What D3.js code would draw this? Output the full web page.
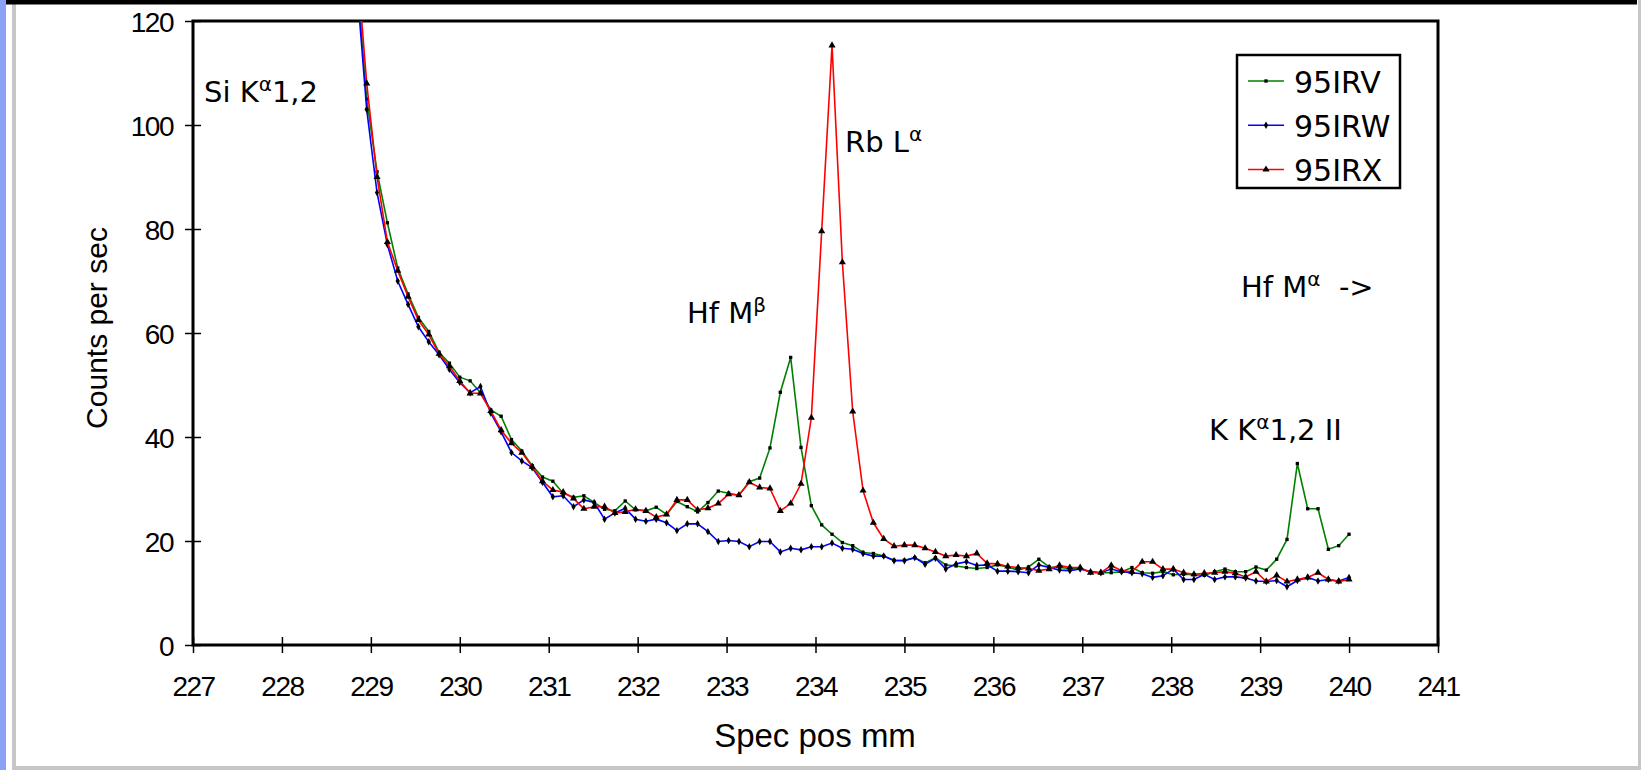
<!DOCTYPE html>
<html>
<head>
<meta charset="utf-8">
<script src="https://cdn.jsdelivr.net/npm/d3@7"></script>
<style>
  html, body { margin: 0; padding: 0; background: #fff; }
  svg { display: block; }
  .tick text { font-family: "Liberation Sans", Arial, sans-serif; font-size: 28px; letter-spacing: -1.5px; fill: #000; }
  .note { font-family: "DejaVu Sans", sans-serif; font-size: 29px; fill: #000; }
  .title { font-family: "Liberation Sans", Arial, sans-serif; fill: #000; }
</style>
</head>
<body>
<svg id="chart" width="1643" height="770"></svg>
<script>
// spectrometer positions: 97 steps from 228.837 to 240.0 mm
var posStart = 228.837, posStep = 10 / 86;
var positions = d3.range(97).map(function(i){ return posStart + i * posStep; });

var seriesNames = ["95IRV", "95IRW", "95IRX"];

var irv = [130, 105, 91, 81.2, 72.5, 67.5, 63, 60.3, 56.3, 54.2,
  51.5, 50.8, 48.5, 45.2, 44, 39.5, 37.3, 34.5, 32.3, 31.5,
  29.2, 28.4, 28.7, 27.4, 26.1, 25.8, 27.7, 26.0, 25.8, 26.5,
  25.1, 27.6, 26.6, 25.6, 27.4, 29.6, 29.2, 28.8, 31.4, 32.1,
  37.9, 48.6, 55.3, 38.0, 26.8, 23.1, 21.3, 19.7, 19.1, 17.8,
  17.6, 17.1, 16.3, 16.3, 16.8, 15.8, 16.8, 15.4, 15.2, 14.9,
  14.7, 14.9, 15.4, 15.0, 14.4, 15.0, 16.5, 15.0, 14.9, 14.7,
  14.7, 14.1, 13.9, 13.9, 14.1, 14.9, 13.9, 13.8, 14.1, 13.5,
  13.6, 13.5, 13.4, 14.1, 14.6, 14.1, 14.1, 15.0, 14.4, 16.5,
  20.3, 34.9, 26.2, 26.2, 18.4, 19.1, 21.3];

var irw = [128, 103, 87, 77, 70, 65.5, 61.2, 58.3, 55.8, 53,
  50.5, 48.5, 49.7, 44.6, 41, 37, 35.4, 34.1, 31.3, 28.5,
  28.7, 26.6, 27.9, 27.4, 24.2, 25.4, 26.3, 24.2, 23.8, 24.2,
  23.5, 22.0, 23.3, 23.3, 21.8, 19.9, 20.1, 19.9, 18.9, 19.9,
  19.9, 17.9, 18.6, 18.3, 18.9, 18.9, 19.6, 18.6, 18.4, 17.6,
  17.1, 17.1, 16.2, 16.2, 16.8, 15.5, 16.7, 14.6, 15.6, 16.0,
  15.3, 15.4, 14.2, 14.2, 14.1, 13.9, 15.4, 14.9, 14.4, 14.3,
  14.6, 14.1, 13.9, 14.6, 14.1, 13.9, 13.7, 13.0, 13.3, 14.6,
  12.6, 12.6, 13.6, 12.6, 13.1, 13.1, 12.9, 12.3, 12.2, 12.4,
  11.2, 12.4, 13.0, 12.3, 12.6, 12.3, 13.0];

var irx = [133, 108, 90, 77.5, 72, 67, 62.5, 59.7, 56, 53.6,
  50.8, 48.4, 48.4, 45, 41.3, 38.8, 37, 34.3, 31.5, 29.8,
  29.4, 28.2, 26.2, 26.6, 26.6, 25.4, 25.6, 26.1, 25.8, 24.6,
  25.1, 27.9, 27.9, 26.0, 26.3, 27.2, 29.0, 28.8, 31.3, 30.3,
  30.1, 25.8, 27.2, 31.0, 43.7, 79.6, 115.3, 73.6, 44.9, 29.7,
  23.5, 20.4, 19.0, 19.2, 19.2, 18.6, 17.9, 17.1, 17.3, 17.1,
  17.6, 15.7, 15.6, 15.1, 14.9, 14.7, 14.3, 14.6, 15.3, 14.9,
  14.9, 13.9, 13.9, 15.3, 14.3, 14.1, 16.0, 16.0, 14.6, 14.6,
  13.9, 13.6, 13.8, 13.9, 14.1, 13.8, 13.1, 14.1, 12.2, 13.4,
  12.2, 12.6, 13.0, 13.9, 12.6, 12.2, 12.6];

var xTicks = d3.range(227, 242, 1);
var yTicks = [0, 20, 40, 60, 80, 100, 120];

var colors = ["#008000", "#0000ff", "#ff0000"];
var shapes = [d3.symbolSquare, d3.symbolDiamond, d3.symbolTriangle];
var shapeSize = [11, 16, 22];

var svg = d3.select("#chart");

// page frame bits
svg.append("rect").attr("x", 0).attr("y", 0).attr("width", 6).attr("height", 770).attr("fill", "#8ba1f3");
svg.append("rect").attr("x", 12).attr("y", 4).attr("width", 4).attr("height", 766).attr("fill", "#c6c6c6");
svg.append("rect").attr("x", 1638).attr("y", 0).attr("width", 3).attr("height", 770).attr("fill", "#c6c6c6");
svg.append("rect").attr("x", 12).attr("y", 766).attr("width", 1629).attr("height", 4).attr("fill", "#c6c6c6");
svg.append("rect").attr("x", 6).attr("y", 0).attr("width", 1631).attr("height", 4.5).attr("fill", "#000");

var x = d3.scaleLinear().domain([227, 241]).range([193, 1438]);
var y = d3.scaleLinear().domain([0, 120]).range([645, 21]);

svg.append("clipPath").attr("id", "plotclip")
  .append("rect")
  .attr("x", x(227)).attr("y", y(120))
  .attr("width", x(241) - x(227)).attr("height", y(0) - y(120));

// axes
var xAxis = svg.append("g")
  .attr("transform", "translate(0," + y(0) + ")")
  .call(d3.axisBottom(x).tickValues(xTicks).tickSize(8).tickFormat(d3.format("d")));
xAxis.select(".domain").remove();
xAxis.selectAll(".tick line").attr("y1", -8).attr("y2", 8).attr("stroke", "#000").attr("stroke-width", 1.5);
xAxis.selectAll(".tick text").attr("y", 51).attr("dy", null);

var yAxis = svg.append("g")
  .attr("transform", "translate(" + x(227) + ",0)")
  .call(d3.axisLeft(y).tickValues(yTicks).tickSize(8));
yAxis.select(".domain").remove();
yAxis.selectAll(".tick line").attr("x1", -8).attr("x2", 8).attr("stroke", "#000").attr("stroke-width", 1.5);
yAxis.selectAll(".tick text").attr("x", -20).attr("dy", null).attr("y", 10);

svg.append("rect")
  .attr("x", x(227)).attr("y", y(120))
  .attr("width", x(241) - x(227)).attr("height", y(0) - y(120))
  .attr("fill", "none").attr("stroke", "#000").attr("stroke-width", 3);

// series
var plot = svg.append("g").attr("clip-path", "url(#plotclip)");
var line = d3.line()
  .x(function(d, i){ return x(positions[i]); })
  .y(function(d){ return y(d); });

[irv, irw, irx].forEach(function(vals, s){
  plot.append("path")
    .datum(vals)
    .attr("fill", "none")
    .attr("stroke", colors[s])
    .attr("stroke-width", 1.6)
    .attr("d", line);

  plot.append("g").selectAll("path")
    .data(vals)
    .enter().append("path")
    .attr("d", d3.symbol().type(shapes[s]).size(shapeSize[s]))
    .attr("transform", function(d, i){ return "translate(" + x(positions[i]) + "," + y(d) + ")"; })
    .attr("fill", "#000");
});

// axis titles
svg.append("text").attr("class", "title")
  .attr("transform", "translate(107,328) rotate(-90)")
  .attr("text-anchor", "middle")
  .style("font-size", "30px")
  .text("Counts per sec");

svg.append("text").attr("class", "title")
  .attr("x", 815).attr("y", 747)
  .attr("text-anchor", "middle")
  .style("font-size", "33px")
  .text("Spec pos mm");

// peak labels: [base, superscript, rest, x, y]
var notes = [
  ["Si K", "\u03b1", "1,2", 204, 102],
  ["Hf M", "\u03b2", "", 687, 323],
  ["Rb L", "\u03b1", "", 845, 152],
  ["K K", "\u03b1", "1,2 II", 1209, 440],
  ["Hf M", "\u03b1", "  ->", 1241, 297]
];

notes.forEach(function(n){
  var t = svg.append("text").attr("class", "note")
    .attr("x", n[3]).attr("y", n[4])
    .attr("xml:space", "preserve");
  t.append("tspan").text(n[0]);
  t.append("tspan").attr("dy", -11).style("font-size", "20px").text(n[1]);
  if (n[2]) t.append("tspan").attr("dy", 11).text(n[2]);
});

// legend
var legend = svg.append("g");
legend.append("rect")
  .attr("x", 1237).attr("y", 55).attr("width", 163).attr("height", 133)
  .attr("fill", "#fff").attr("stroke", "#000").attr("stroke-width", 2.5);

var legendY = d3.scalePoint().domain(seriesNames).range([81, 169.5]);

seriesNames.forEach(function(name, s){
  var ly = legendY(name);
  legend.append("line")
    .attr("x1", 1248).attr("x2", 1284).attr("y1", ly).attr("y2", ly)
    .attr("stroke", colors[s]).attr("stroke-width", 1.6);
  legend.append("path")
    .attr("d", d3.symbol().type(shapes[s]).size(shapeSize[s]))
    .attr("transform", "translate(1266," + ly + ")")
    .attr("fill", "#000");
  legend.append("text").attr("class", "note")
    .attr("x", 1294).attr("y", ly + 11.5)
    .style("font-size", "30px")
    .text(name);
});
</script>
</body>
</html>
